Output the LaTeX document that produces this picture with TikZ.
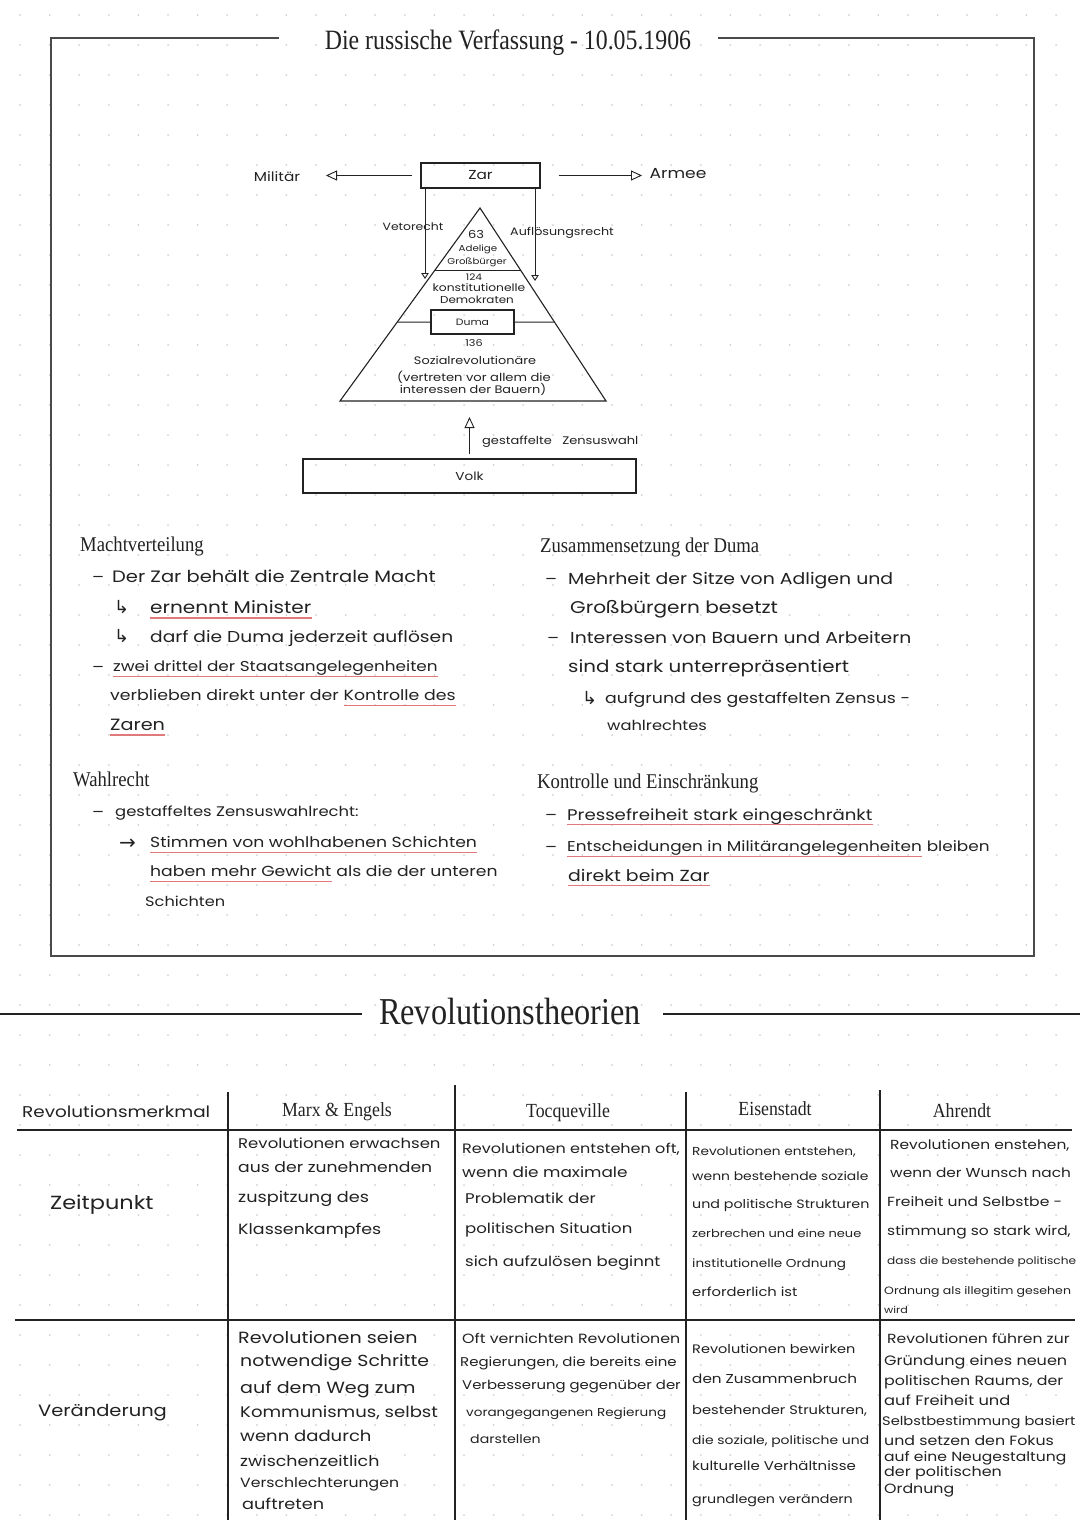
\documentclass[tikz,border=0pt]{standalone}
\usepackage{fontspec}
\setmainfont{Poppins}[FakeStretch=1.18]
\newfontfamily\headfont[FakeStretch=0.85]{Liberation Serif}
\newfontfamily\secfont[FakeStretch=0.89]{Liberation Serif}
\newfontfamily\symfont{DejaVu Sans}
\usetikzlibrary{arrows.meta,calc}
\definecolor{ink}{HTML}{222222}
\definecolor{redline}{HTML}{E07A7A}
\definecolor{framec}{HTML}{4A4A4A}
\definecolor{dotc}{HTML}{D2D2D2}
\tikzset{
  every node/.style={inner sep=0pt, text=ink},
  hwf/.style={font=\fontsize{#1}{#1}\selectfont},
  hw/.style={hwf=#1, anchor=base west, yshift={-0.27*#1}},
  hw/.default=15,
  hwc/.style={hwf=#1, anchor=base, yshift={-0.27*#1}},
  hwc/.default=15,
  hwr/.style={hwf=#1, anchor=base west, xshift=4.5pt},
  hwr/.default=15,
  sym/.style={font=\symfont\fontsize{#1}{#1}\selectfont, anchor=base west, yshift={-0.27*#1}},
  sym/.default=18,
  hd/.style={font=\secfont\fontsize{#1}{#1}\selectfont, anchor=base west, yshift={-0.33*#1}},
  hd/.default=21,
  hdc/.style={font=\secfont\fontsize{#1}{#1}\selectfont, anchor=base, yshift={-0.33*#1}},
  hdc/.default=20,
  ttl/.style={font=\headfont\fontsize{#1}{#1}\selectfont, anchor=base, yshift={-0.33*#1}},
  box/.style={draw=ink, line width=1.1pt, inner sep=0pt},
  arr/.style={draw=ink, line width=0.9pt, -{Triangle[open,length=11pt,width=10pt]}},
  sarr/.style={draw=ink, line width=0.9pt, -{Triangle[open,length=6pt,width=7.5pt]}},
  ul/.style={draw=redline, line width=1.3pt},
  frameline/.style={draw=framec, line width=1.3pt},
  tline/.style={draw=ink, line width=1.4pt},
}
\newcommand{\under}[1]{\draw[ul] ([yshift=-4.5pt]#1.base west) -- ([yshift=-4.5pt]#1.base east);}
\begin{document}
\begin{tikzpicture}[x=1pt,y=-1pt]
\useasboundingbox[fill=white] (0,0) rectangle (1080,1525);
% dot grid
\foreach \i in {0,...,36} {
  \foreach \j in {0,...,50} {
    \fill[dotc] ({20+\i*29.6},{15+\j*30}) circle (1);
  }
}
% ---------- top frame ----------
\node[ttl=28] (title1) at (508,40) {Die russische Verfassung - 10.05.1906};
\draw[frameline] (279,38) -- (51,38) -- (51,956) -- (1034,956) -- (1034,38) -- (718,38);

% Zar and arrows
\node[box, minimum width=119pt, minimum height=25pt, hwf=13] (zar) at (480.5,175.5) {Zar};
\node[hwc=13] (mil) at (277,178) {Militär};
\node[hwc=14.5] (armee) at (678,175) {Armee};
\coordinate (milend) at (326,176);
\coordinate (armend) at (642,175);
\draw[arr] ([xshift=-8pt]zar.west) -- (zar.west -| milend);
\draw[arr] ([xshift=18pt]zar.east) -- (zar.east -| armend);

% rights
\coordinate (vetoend) at (425,279);
\coordinate (auflend) at (535,281);
\draw[sarr] (zar.south -| vetoend) -- (vetoend);
\draw[sarr] (zar.south -| auflend) -- (auflend);
\node[hwc=10.5] (veto) at (413,228) {Vetorecht};
\node[hwc=10.8] (aufl) at (562,233) {Auflösungsrecht};

% pyramid
\coordinate (apex) at (480,208);
\coordinate (pbl) at (340,401);
\coordinate (pbr) at (606,401);
\draw[draw=ink, line width=1.1pt, line join=miter] (apex) -- (pbl) -- (pbr) -- cycle;
\draw[draw=ink, line width=1pt] ($(apex)!0.326!(pbl)$) -- ($(apex)!0.326!(pbr)$);
\node[box, minimum width=83pt, minimum height=24pt, hwf=9.2] (duma) at (472.5,322) {Duma};
\draw[draw=ink, line width=1pt] ($(apex)!0.591!(pbl)$) -- (duma.west);
\draw[draw=ink, line width=1pt] (duma.east) -- ($(apex)!0.591!(pbr)$);
\node[hwc=11] (p63) at (476,236) {63};
\node[hwc=8.7] (padel) at (478,249) {Adelige};
\node[hwc=8.6] (pgross) at (477,262) {Großbürger};
\node[hwc=9] (p124) at (474,278) {124};
\node[hwc=10.4] (pkon) at (479,289) {konstitutionelle};
\node[hwc=10.1] (pdem) at (477,301) {Demokraten};
\node[hwc=9.5] (p136) at (474,344) {136};
\node[hwc=10.9] (psoz) at (475,362) {Sozialrevolutionäre};
\node[hwc=11.1] (pvert) at (474,379) {(vertreten vor allem die};
\node[hwc=10.9] (pint) at (473,391) {interessen der Bauern)};

% Volk
\node[box, minimum width=333pt, minimum height=34pt, hwf=11.5] (volk) at (469.5,476) {Volk};
\coordinate (wahltip) at (469.5,417);
\draw[arr] ([yshift=4pt]volk.north) -- (wahltip);
\node[hw=11] (gest) at (482,442) {gestaffelte \ \ Zensuswahl};

% ---------- Machtverteilung ----------
\node[hd] (hmacht) at (80,545) {Machtverteilung};
\node[hw] (md1) at (92,578) {–};
\node[hw=16.5] (m1) at (112,578) {Der Zar behält die Zentrale Macht};
\node[sym] (ma2) at (114,609) {↳};
\node[hw=17] (m2) at (150,609) {ernennt Minister};
\under{m2}
\node[sym] (ma3) at (114,638) {↳};
\node[hw=15.8] (m3) at (150,638) {darf die Duma jederzeit auflösen};
\node[hw] (md4) at (92,668) {–};
\node[hw=14.3] (m4) at (113,668) {zwei drittel der Staatsangelegenheiten};
\under{m4}
\node[hw=14.7] (m5a) at (110,697) {verblieben direkt unter der};
\node[hwr=14.7] (m5b) at (m5a.base east) {Kontrolle des};
\under{m5b}
\node[hw=16.3] (m6) at (110,726) {Zaren};
\under{m6}

% ---------- Zusammensetzung ----------
\node[hd] (hzus) at (540,546) {Zusammensetzung der Duma};
\node[hw] (zd1) at (545,580) {–};
\node[hw=16] (z1) at (568,580) {Mehrheit der Sitze von Adligen und};
\node[hw=17] (z2) at (570,609) {Großbürgern besetzt};
\node[hw] (zd3) at (547,639) {–};
\node[hw=15.9] (z3) at (570,639) {Interessen von Bauern und Arbeitern};
\node[hw=16.8] (z4) at (568,668) {sind stark unterrepräsentiert};
\node[sym] (za5) at (582,700) {↳};
\node[hw=14.7] (z5) at (605,700) {aufgrund des gestaffelten Zensus -};
\node[hw=13.8] (z6) at (607,727) {wahlrechtes};

% ---------- Wahlrecht ----------
\node[hd] (hwahl) at (73,780) {Wahlrecht};
\node[hw] (wd1) at (92,813) {–};
\node[hw=13.9] (w1) at (115,813) {gestaffeltes Zensuswahlrecht:};
\node[sym=20] (wa2) at (119,844) {→};
\node[hw=14.6] (w2) at (150,844) {Stimmen von wohlhabenen Schichten};
\under{w2}
\node[hw=14.6] (w3a) at (150,873) {haben mehr Gewicht};
\under{w3a}
\node[hwr=14.6] (w3b) at (w3a.base east) {als die der unteren};
\node[hw=13.7] (w4) at (145,903) {Schichten};

% ---------- Kontrolle ----------
\node[hd] (hkon) at (537,782) {Kontrolle und Einschränkung};
\node[hw] (kd1) at (545,816) {–};
\node[hw=15.4] (k1) at (567,816) {Pressefreiheit stark eingeschränkt};
\under{k1}
\node[hw] (kd2) at (545,848) {–};
\node[hw=14.3] (k2a) at (567,848) {Entscheidungen in Militärangelegenheiten};
\under{k2a}
\node[hwr=14.3] (k2b) at (k2a.base east) {bleiben};
\node[hw=16] (k3) at (568,877) {direkt beim Zar};
\under{k3}

% ---------- Revolutionstheorien ----------
\node[ttl=38] (title2) at (510,1012) {Revolutionstheorien};
\draw[tline] (0,1014) -- (362,1014);
\draw[tline] (663,1014) -- (1080,1014);

% table lines
\draw[tline] (17,1130) -- (1072,1130);
\draw[tline] (15,1320) -- (1075,1320);
\draw[tline] (228,1092) -- (228,1520);
\draw[tline] (455,1085) -- (455,1520);
\draw[tline] (686,1092) -- (686,1520);
\draw[tline] (880,1090) -- (880,1520);

% headers
\node[hw=15.6] (hmerk) at (22,1113) {Revolutionsmerkmal};
\node[hdc] (hmarx) at (337,1110) {Marx \& Engels};
\node[hdc] (htoc) at (568,1111) {Tocqueville};
\node[hdc] (heis) at (775,1109) {Eisenstadt};
\node[hdc] (harendt) at (962,1111) {Ahrendt};

% row labels
\node[hw=19] (rzeit) at (50,1204) {Zeitpunkt};
\node[hw=16.5] (rver) at (38,1412) {Veränderung};

% row 1: Marx
\node[hw=14] (a1) at (238,1145) {Revolutionen erwachsen};
\node[hw=14.6] (a2) at (238,1169) {aus der zunehmenden};
\node[hw=15] (a3) at (238,1198) {zuspitzung des};
\node[hw=14.8] (a4) at (238,1230) {Klassenkampfes};
% row 1: Tocqueville
\node[hw=13.6] (b1) at (462,1150) {Revolutionen entstehen oft,};
\node[hw=14.3] (b2) at (462,1174) {wenn die maximale};
\node[hw=14] (b3) at (465,1200) {Problematik der};
\node[hw=14] (b4) at (465,1230) {politischen Situation};
\node[hw=14] (b5) at (465,1263) {sich aufzulösen beginnt};
% row 1: Eisenstadt
\node[hw=11.6] (c1) at (692,1152) {Revolutionen entstehen,};
\node[hw=11.8] (c2) at (692,1177) {wenn bestehende soziale};
\node[hw=12.1] (c3) at (692,1205) {und politische Strukturen};
\node[hw=11] (c4) at (692,1235) {zerbrechen und eine neue};
\node[hw=11.5] (c5) at (692,1264) {institutionelle Ordnung};
\node[hw=12.5] (c6) at (692,1293) {erforderlich ist};
% row 1: Ahrendt
\node[hw=13.1] (d1) at (890,1146) {Revolutionen enstehen,};
\node[hw=13] (d2) at (890,1174) {wenn der Wunsch nach};
\node[hw=13.2] (d3) at (887,1203) {Freiheit und Selbstbe -};
\node[hw=13.1] (d4) at (887,1232) {stimmung so stark wird,};
\node[hw=10.3] (d5) at (887,1262) {dass die bestehende politische};
\node[hw=10.6] (d6) at (884,1292) {Ordnung als illegitim gesehen};
\node[hw=9.5] (d7) at (884,1311) {wird};

% row 2: Marx
\node[hw=16.2] (e1) at (238,1339) {Revolutionen seien};
\node[hw=16] (e2) at (240,1362) {notwendige Schritte};
\node[hw=16.2] (e3) at (240,1389) {auf dem Weg zum};
\node[hw=15.3] (e4) at (240,1413) {Kommunismus, selbst};
\node[hw=15.3] (e5) at (240,1437) {wenn dadurch};
\node[hw=14.8] (e6) at (240,1462) {zwischenzeitlich};
\node[hw=13.3] (e7) at (240,1484) {Verschlechterungen};
\node[hw=15] (e8) at (242,1505) {auftreten};
% row 2: Tocqueville
\node[hw=13.4] (f1) at (462,1340) {Oft vernichten Revolutionen};
\node[hw=12.7] (f2) at (460,1363) {Regierungen, die bereits eine};
\node[hw=12.6] (f3) at (462,1386) {Verbesserung gegenüber der};
\node[hw=11.5] (f4) at (466,1413) {vorangegangenen Regierung};
\node[hw=12] (f5) at (470,1440) {darstellen};
% row 2: Eisenstadt
\node[hw=12.3] (g1) at (692,1350) {Revolutionen bewirken};
\node[hw=12.9] (g2) at (692,1380) {den Zusammenbruch};
\node[hw=12.4] (g3) at (692,1411) {bestehender Strukturen,};
\node[hw=11.8] (g4) at (692,1441) {die soziale, politische und};
\node[hw=12.7] (g5) at (692,1467) {kulturelle Verhältnisse};
\node[hw=12.1] (g6) at (692,1500) {grundlegen verändern};
% row 2: Ahrendt
\node[hw=13.2] (h1) at (887,1340) {Revolutionen führen zur};
\node[hw=13.6] (h2) at (884,1362) {Gründung eines neuen};
\node[hw=13.4] (h3) at (884,1382) {politischen Raums, der};
\node[hw=13.8] (h4) at (884,1402) {auf Freiheit und};
\node[hw=12.4] (h5) at (882,1422) {Selbstbestimmung basiert};
\node[hw=13.4] (h6) at (884,1442) {und setzen den Fokus};
\node[hw=13.2] (h7) at (884,1458) {auf eine Neugestaltung};
\node[hw=13.5] (h8) at (884,1473) {der politischen};
\node[hw=13.4] (h9) at (884,1490) {Ordnung};
\end{tikzpicture}
\end{document}
